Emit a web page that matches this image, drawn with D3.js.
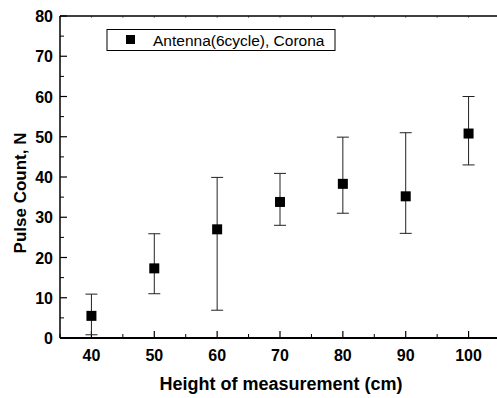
<!DOCTYPE html>
<html>
<head>
<meta charset="utf-8">
<script src="https://cdn.jsdelivr.net/npm/d3@7"></script>
<style>
  body { margin: 0; background: #fff; }
</style>
</head>
<body>
<div id="chart"></div>
<script>
// measured heights and pulse counts
var heights = [40, 50, 60, 70, 80, 90, 100];
var counts  = [5.5, 17.3, 27.0, 33.8, 38.3, 35.2, 50.8];
var errLow  = [0.8, 11.0, 6.9, 28.0, 31.0, 26.0, 43.0];
var errHigh = [10.9, 25.9, 39.9, 40.9, 49.9, 51.0, 60.0];
var xTicks = [40, 50, 60, 70, 80, 90, 100];
var yTicks = [0, 10, 20, 30, 40, 50, 60, 70, 80];
var seriesName = 'Antenna(6cycle), Corona';

var width = 497, height = 398;
var margin = {top: 16, right: -3, bottom: 60, left: 60};

var svg = d3.select('#chart').append('svg')
    .attr('width', width)
    .attr('height', height)
    .style('font-family', 'Arial, "Liberation Sans", sans-serif');

var x = d3.scaleLinear()
    .domain([35, 105])
    .range([margin.left, width - margin.right]);

var y = d3.scaleLinear()
    .domain([0, 80])
    .range([height - margin.bottom, margin.top]);

var data = heights.map(function(h, i) {
    return {h: h, n: counts[i], lo: errLow[i], hi: errHigh[i]};
});

// minor ticks (every 5)
var xMinor = d3.range(35, 106, 5).filter(function(d) { return d % 10 !== 0; });
var yMinor = d3.range(5, 80, 10);

var axes = svg.append('g');

// left axis ticks, pointing inward
axes.selectAll('.ymaj').data(yTicks).enter().append('line')
    .attr('x1', margin.left).attr('x2', margin.left + 7)
    .attr('y1', d => y(d)).attr('y2', d => y(d))
    .attr('stroke', '#000').attr('stroke-width', 1.2);
axes.selectAll('.ymin').data(yMinor).enter().append('line')
    .attr('x1', margin.left).attr('x2', margin.left + 4)
    .attr('y1', d => y(d)).attr('y2', d => y(d))
    .attr('stroke', '#000').attr('stroke-width', 1);

// bottom axis ticks
axes.selectAll('.xmaj').data(xTicks).enter().append('line')
    .attr('x1', d => x(d)).attr('x2', d => x(d))
    .attr('y1', y(0)).attr('y2', y(0) - 7)
    .attr('stroke', '#000').attr('stroke-width', 1.2);
axes.selectAll('.xmin').data(xMinor).enter().append('line')
    .attr('x1', d => x(d)).attr('x2', d => x(d))
    .attr('y1', y(0)).attr('y2', y(0) - 4)
    .attr('stroke', '#000').attr('stroke-width', 1);

// top axis small ticks
axes.selectAll('.xtop').data(xTicks.concat(xMinor)).enter().append('line')
    .attr('x1', d => x(d)).attr('x2', d => x(d))
    .attr('y1', y(80)).attr('y2', y(80) + 2)
    .attr('stroke', '#888').attr('stroke-width', 1);

// frame lines
axes.append('line')
    .attr('x1', margin.left).attr('x2', margin.left)
    .attr('y1', y(80)).attr('y2', y(0))
    .attr('stroke', '#000').attr('stroke-width', 1.5);
axes.append('line')
    .attr('x1', margin.left).attr('x2', width)
    .attr('y1', y(0)).attr('y2', y(0))
    .attr('stroke', '#000').attr('stroke-width', 2);
axes.append('line')
    .attr('x1', margin.left).attr('x2', width)
    .attr('y1', y(80)).attr('y2', y(80))
    .attr('stroke', '#000').attr('stroke-width', 1.5);

// tick labels
axes.selectAll('.ylab').data(yTicks).enter().append('text')
    .attr('x', margin.left - 7)
    .attr('y', d => y(d) + 6)
    .attr('text-anchor', 'end')
    .style('font-size', '16px').style('font-weight', 'bold')
    .text(d => d);
axes.selectAll('.xlab').data(xTicks).enter().append('text')
    .attr('x', d => x(d))
    .attr('y', y(0) + 23)
    .attr('text-anchor', 'middle')
    .style('font-size', '16px').style('font-weight', 'bold')
    .text(d => d);

// axis titles
svg.append('text')
    .attr('x', 281).attr('y', 390)
    .attr('text-anchor', 'middle')
    .style('font-size', '18px').style('font-weight', 'bold')
    .text('Height of measurement (cm)');
svg.append('text')
    .attr('transform', 'translate(26,' + 193 + ') rotate(-90)')
    .attr('text-anchor', 'middle')
    .style('font-size', '17px').style('font-weight', 'bold')
    .text('Pulse Count, N');

// error bars
var eb = svg.append('g').selectAll('.err').data(data).enter().append('g')
    .attr('stroke', '#222').attr('stroke-width', 1);
eb.append('line')
    .attr('x1', d => x(d.h)).attr('x2', d => x(d.h))
    .attr('y1', d => y(d.lo)).attr('y2', d => y(d.hi));
eb.append('line')
    .attr('x1', d => x(d.h) - 6).attr('x2', d => x(d.h) + 6)
    .attr('y1', d => y(d.lo)).attr('y2', d => y(d.lo));
eb.append('line')
    .attr('x1', d => x(d.h) - 6).attr('x2', d => x(d.h) + 6)
    .attr('y1', d => y(d.hi)).attr('y2', d => y(d.hi));

// square markers
svg.append('g').selectAll('rect').data(data).enter().append('rect')
    .attr('x', d => x(d.h) - 5)
    .attr('y', d => y(d.n) - 5)
    .attr('width', 10).attr('height', 10)
    .attr('fill', '#000');

// legend
var legend = svg.append('g');
legend.append('rect')
    .attr('x', 107).attr('y', 29.5)
    .attr('width', 228).attr('height', 21)
    .attr('fill', '#fff').attr('stroke', '#000').attr('stroke-width', 1);
legend.append('rect')
    .attr('x', 126).attr('y', 35)
    .attr('width', 9).attr('height', 9)
    .attr('fill', '#000');
legend.append('text')
    .attr('x', 153).attr('y', 46)
    .style('font-size', '15.5px')
    .text(seriesName);
</script>
</body>
</html>
